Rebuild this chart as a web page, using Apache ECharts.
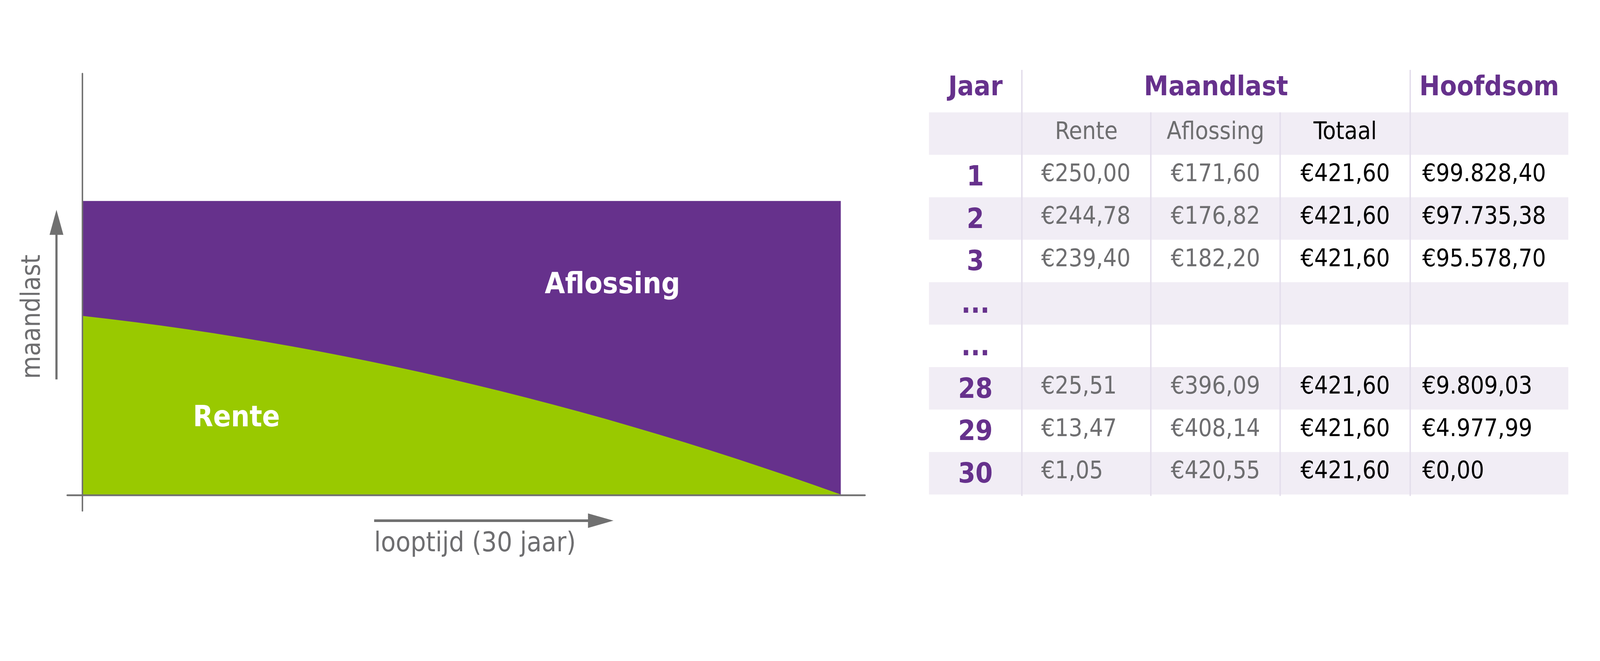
<!DOCTYPE html>
<html>
<head>
<meta charset="utf-8">
<script src="https://cdn.jsdelivr.net/npm/echarts@6/dist/echarts.min.js"></script>
<style>
html, body { margin: 0; padding: 0; background: #fff; overflow: hidden; }
#container { width: 100vw; height: 100vh; }
</style>
</head>
<body>
<div id="container"></div>
<script>
var jaren = [1, 2, 3, 4, 5, 6, 7, 8, 9, 10, 11, 12, 13, 14, 15,
    16, 17, 18, 19, 20, 21, 22, 23, 24, 25, 26, 27, 28, 29, 30];
var rentePerJaar = [257.0, 252.7, 248.0, 243.1, 237.8, 232.2, 226.2, 220.0, 213.4, 206.5,
    199.3, 191.7, 183.9, 175.7, 167.2, 158.3, 149.2, 139.7, 129.9, 119.8,
    109.4, 98.6, 87.5, 76.1, 64.4, 52.4, 40.0, 27.3, 14.3, 1.0];
var maandlast = 421.60;

// tabel
var kopTeksten = ['Jaar', 'Maandlast', 'Hoofdsom'];
var subKoppen = ['', 'Rente', 'Aflossing', 'Totaal', ''];
var tabelJaar = ['1', '2', '3', '...', '...', '28', '29', '30'];
var tabelRente = [250.00, 244.78, 239.40, null, null, 25.51, 13.47, 1.05];
var tabelAflossing = [171.60, 176.82, 182.20, null, null, 396.09, 408.14, 420.55];
var tabelTotaal = [421.60, 421.60, 421.60, null, null, 421.60, 421.60, 421.60];
var tabelHoofdsom = [99828.40, 97735.38, 95578.70, null, null, 9809.03, 4977.99, 0.00];

var paars = '#66318C';
var groen = '#99C900';
var grijs = '#707070';
var tekstGrijs = '#6E6E70';
var arcering = '#F1EDF5';
var lijnKleur = '#E4DEEC';
var font = 'DejaVu Sans Condensed';

// kolomgrenzen van de tabel (in tabel-eenheden)
var kolomGrens = [0, 255, 609, 964, 1321, 1755];

// alles is ontworpen op 4392 x 1693, schaal naar het echte venster
var S = Math.min(window.innerWidth / 4392, window.innerHeight / 1693);
function p(v) { return v * S; }

function euro(v) {
    var d = v.toFixed(2).split('.');
    return '\u20AC' + d[0].replace(/\B(?=(\d{3})+(?!\d))/g, '.') + ',' + d[1];
}

var dom = document.getElementById('container');
var myChart = echarts.init(dom, null, { renderer: 'canvas' });

function tekst(x, y, t, kleur, size, bold, align) {
    return {
        type: 'text',
        x: x, y: y,
        style: {
            text: t, fill: kleur,
            font: (bold ? 'bold ' : '') + p(size) + 'px "' + font + '"',
            align: align || 'center', verticalAlign: 'middle'
        }
    };
}

function renderRij(params, api) {
    var r = api.value(1);
    var top = api.coord([0, r])[1];
    var h = api.size([0, 1])[1];
    var cx = function (e) { return api.coord([e, r])[0]; };
    var mid = top + h / 2;
    var kids = [];
    if (r % 2 === 1) {
        kids.push({
            type: 'rect',
            shape: { x: cx(kolomGrens[0]), y: top, width: cx(kolomGrens[5]) - cx(kolomGrens[0]), height: h },
            style: { fill: arcering }
        });
    }
    var midden = function (a, b) { return (cx(kolomGrens[a]) + cx(kolomGrens[b])) / 2; };
    if (r === 0) {
        kids.push(tekst(midden(0, 1), mid - p(8), kopTeksten[0], paars, 75, true));
        kids.push(tekst(midden(1, 4), mid - p(8), kopTeksten[1], paars, 75, true));
        kids.push(tekst(midden(4, 5), mid - p(8), kopTeksten[2], paars, 75, true));
    } else if (r === 1) {
        kids.push(tekst(midden(1, 2), mid - p(2), subKoppen[1], tekstGrijs, 66, false));
        kids.push(tekst(midden(2, 3), mid - p(2), subKoppen[2], tekstGrijs, 66, false));
        kids.push(tekst(midden(3, 4), mid - p(2), subKoppen[3], '#000', 66, false));
    } else {
        var i = r - 2;
        kids.push(tekst(midden(0, 1), mid + p(6), tabelJaar[i], paars, 76, true));
        if (tabelRente[i] != null) {
            kids.push(tekst(cx(kolomGrens[1]) + p(53), mid - p(3), euro(tabelRente[i]), tekstGrijs, 66, false, 'left'));
            kids.push(tekst(midden(2, 3), mid - p(3), euro(tabelAflossing[i]), tekstGrijs, 66, false));
            kids.push(tekst(midden(3, 4), mid - p(3), euro(tabelTotaal[i]), '#000', 66, false));
            kids.push(tekst(cx(kolomGrens[4]) + p(33), mid - p(3), euro(tabelHoofdsom[i]), '#000', 66, false, 'left'));
        }
    }
    return { type: 'group', children: kids };
}

function renderScheiding(params, api) {
    var e = api.value(0);
    var start = api.value(1);
    var p1 = api.coord([kolomGrens[e], start]);
    var p2 = api.coord([kolomGrens[e], tabelJaar.length + 2]);
    return {
        type: 'line',
        shape: { x1: p1[0], y1: p1[1], x2: p2[0], y2: p2[1] + p(4) },
        style: { stroke: lijnKleur, lineWidth: p(4) }
    };
}

var rijen = [];
for (var r = 0; r < tabelJaar.length + 2; r++) rijen.push([0, r]);

var option = {
    animation: false,
    backgroundColor: '#fff',
    grid: [
        { left: p(185), top: p(202), width: p(2189), height: p(1201) },
        { left: p(2550), top: p(192), width: p(1755), height: p(1166) }
    ],
    xAxis: [
        {
            type: 'value', gridIndex: 0, min: -0.571, max: 29.92, z: 5,
            axisLine: { show: true, onZero: true, lineStyle: { color: grijs, width: p(5) } },
            axisTick: { show: false }, axisLabel: { show: false }, splitLine: { show: false }
        },
        { type: 'value', gridIndex: 1, min: 0, max: 1755, show: false }
    ],
    yAxis: [
        {
            type: 'value', gridIndex: 0, min: -22.4, max: 604.2, z: 5,
            axisLine: { show: true, onZero: true, lineStyle: { color: grijs, width: p(4) } },
            axisTick: { show: false }, axisLabel: { show: false }, splitLine: { show: false }
        },
        { type: 'value', gridIndex: 1, min: 0, max: tabelJaar.length + 2, inverse: true, show: false }
    ],
    series: [
        {
            name: 'Aflossing',
            type: 'line',
            xAxisIndex: 0, yAxisIndex: 0,
            data: jaren.map(function (j) { return [j - 1, maandlast]; }),
            showSymbol: false,
            lineStyle: { width: 0 },
            areaStyle: { color: paars, opacity: 1 },
            z: 2
        },
        {
            name: 'Rente',
            type: 'line',
            xAxisIndex: 0, yAxisIndex: 0,
            data: jaren.map(function (j, i) { return [j - 1, rentePerJaar[i]]; }),
            showSymbol: false,
            lineStyle: { width: 0 },
            areaStyle: { color: groen, opacity: 1 },
            z: 3
        },
        {
            type: 'custom',
            xAxisIndex: 1, yAxisIndex: 1,
            renderItem: renderRij,
            data: rijen,
            z: 2
        },
        {
            type: 'custom',
            xAxisIndex: 1, yAxisIndex: 1,
            renderItem: renderScheiding,
            data: [[1, 0], [2, 1], [3, 1], [4, 0]],
            z: 3
        }
    ],
    graphic: [
        // pijl omhoog
        { type: 'line', shape: { x1: p(155), y1: p(1042), x2: p(155), y2: p(640) }, style: { stroke: grijs, lineWidth: p(6) } },
        { type: 'polygon', shape: { points: [[p(136), p(645)], [p(174), p(645)], [p(155), p(576)]] }, style: { fill: grijs } },
        // pijl naar rechts
        { type: 'line', shape: { x1: p(1027), y1: p(1430), x2: p(1620), y2: p(1430) }, style: { stroke: grijs, lineWidth: p(7) } },
        { type: 'polygon', shape: { points: [[p(1614), p(1410)], [p(1614), p(1450)], [p(1684), p(1430)]] }, style: { fill: grijs } },
        {
            type: 'text', x: p(91), y: p(870), rotation: Math.PI / 2,
            style: { text: 'maandlast', fill: tekstGrijs, font: p(72) + 'px "' + font + '"', align: 'center', verticalAlign: 'middle' }
        },
        {
            type: 'text', x: p(1027), y: p(1495),
            style: { text: 'looptijd (30 jaar)', fill: tekstGrijs, font: p(74) + 'px "' + font + '"', align: 'left', verticalAlign: 'middle' }
        },
        {
            type: 'text', x: p(1681), y: p(784), z: 10,
            style: { text: 'Aflossing', fill: '#fff', font: 'bold ' + p(80) + 'px "' + font + '"', align: 'center', verticalAlign: 'middle' }
        },
        {
            type: 'text', x: p(649), y: p(1150), z: 10,
            style: { text: 'Rente', fill: '#fff', font: 'bold ' + p(80) + 'px "' + font + '"', align: 'center', verticalAlign: 'middle' }
        }
    ]
};

myChart.setOption(option);
window.addEventListener('resize', myChart.resize);
</script>
</body>
</html>
